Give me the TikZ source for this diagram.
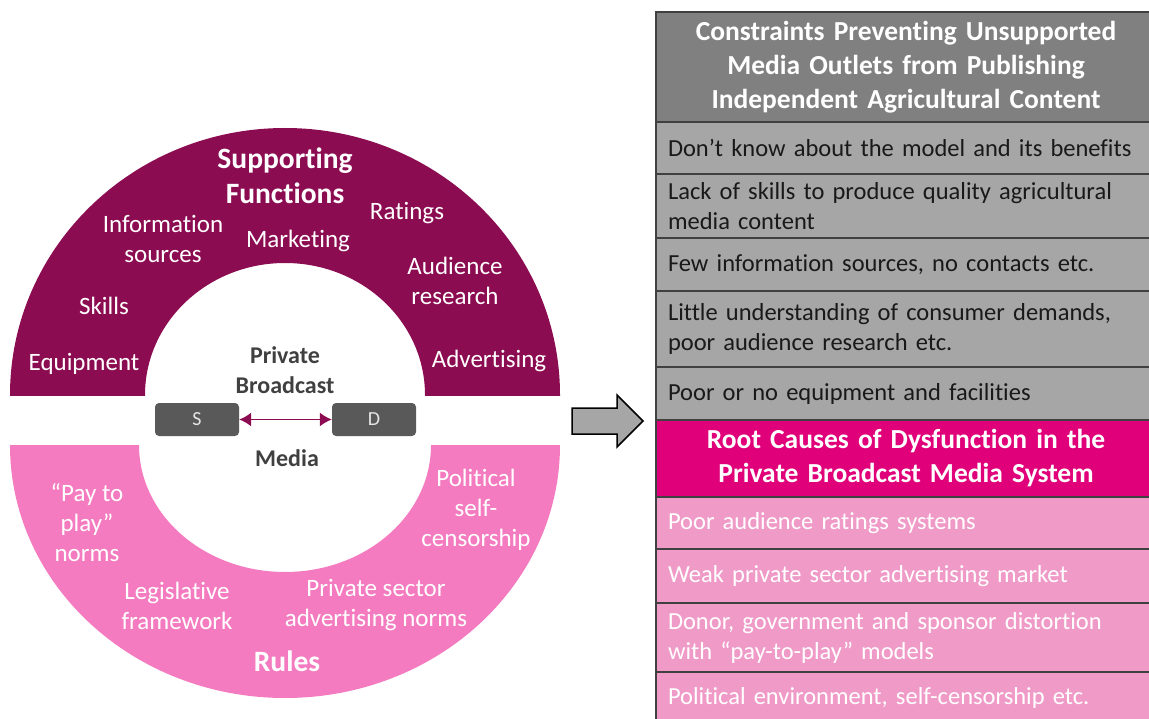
\documentclass[tikz,border=0pt]{standalone}
\usepackage{fontspec}
\setmainfont{Carlito}[Ligatures=NoCommon]
\usetikzlibrary{positioning, arrows.meta}

\definecolor{suppc}{HTML}{8C0C52}
\definecolor{rulec}{HTML}{F47BC0}
\definecolor{headgray}{HTML}{808080}
\definecolor{rowgray}{HTML}{A6A6A6}
\definecolor{headpink}{HTML}{E0007A}
\definecolor{rowpink}{HTML}{F09AC8}
\definecolor{rowline}{HTML}{404040}
\definecolor{boxgray}{HTML}{595959}
\definecolor{midtext}{HTML}{404040}

\tikzset{
	lbl/.style={text=white, align=center, font=\fontsize{25}{30}\selectfont},
	bigl/.style={text=white, align=center, font=\bfseries\fontsize{29.5}{35}\selectfont},
	midl/.style={text=midtext, align=center, font=\bfseries\fontsize{24}{30}\selectfont},
	sdbox/.style={fill=boxgray, rounded corners=4pt, minimum width=84pt, minimum height=33pt, text=white!90!black, font=\fontsize{20}{24}\selectfont},
	cell/.style={draw=rowline, line width=1.5pt, outer sep=0pt, inner xsep=12pt, inner ysep=2pt, minimum width=500pt, text width=476pt, align=left, font=\fontsize{24.5}{30}\selectfont},
	grayrow/.style={cell, fill=rowgray, text=black!90},
	pinkrow/.style={cell, fill=rowpink, text=white},
	headcell/.style={cell, align=center, text=white, font=\bfseries\fontsize{27.5}{34}\selectfont}
}

\begin{document}
\begin{tikzpicture}[x=1pt, y=-1pt]
	\useasboundingbox (0,0) rectangle (1149,719);

	% supporting functions (top half)
	\begin{scope}
		\clip (0,0) rectangle (600,395);
		\fill[suppc, even odd rule] (285,395) ellipse[x radius=275, y radius=267] (285,395) ellipse[x radius=140, y radius=132];
	\end{scope}
	% rules (bottom half)
	\begin{scope}
		\clip (0,445) rectangle (600,719);
		\fill[rulec, even odd rule] (285,445) ellipse[x radius=275, y radius=253] (285,445) ellipse[x radius=146, y radius=127];
	\end{scope}

	\node[bigl] (sf) at (285,176) {Supporting\\Functions};
	\node[lbl] (info) at (163,239) {Information\\sources};
	\node[lbl] (mkt) at (298,241) {Marketing};
	\node[lbl] (ratings) at (407,213) {Ratings};
	\node[lbl] (aud) at (455,281) {Audience\\research};
	\node[lbl] (skills) at (104,306) {Skills};
	\node[lbl] (equip) at (84,364) {Equipment};
	\node[lbl] (adv) at (489,361) {Advertising};

	\node[midl] (pb) at (285,370) {Private\\Broadcast};
	\node[sdbox] (s) at (197,419.5) {S};
	\node[sdbox] (d) at (374,419.5) {D};
	\draw[{Latex[length=12pt,width=14pt]}-{Latex[length=12pt,width=14pt]}, suppc, line width=1.5pt] (s) -- (d);
	\node[midl] (media) at (287,458) {Media};

	\node[lbl] (ptp) at (87,523) {``Pay to\\play''\\norms};
	\node[lbl] (polit) at (476,510) {Political\\self-\\censorship};
	\node[lbl] (legis) at (177,606) {Legislative\\framework};
	\node[lbl] (psan) at (376,605) {Private sector\\advertising norms};
	\node[bigl] (rules) at (287,661) {Rules};

	% block arrow
	\draw[fill=rowgray, line width=1.5pt, line join=miter] (572,408) -- (617,408) -- (617,395) -- (643,421) -- (617,447) -- (617,434) -- (572,434) -- cycle;

	% constraints table
	\node[headcell, minimum height=110pt, anchor=north west, fill=headgray] (con) at (656,12) {Constraints Preventing Unsupported\\Media Outlets from Publishing\\Independent Agricultural Content};
	\node[grayrow, minimum height=52pt, below=0pt of con] (con1) {Don’t know about the model and its benefits};
	\node[grayrow, minimum height=64pt, below=0pt of con1] (con2) {Lack of skills to produce quality agricultural\\media content};
	\node[grayrow, minimum height=53pt, below=0pt of con2] (con3) {Few information sources, no contacts etc.};
	\node[grayrow, minimum height=76pt, below=0pt of con3] (con4) {Little understanding of consumer demands,\\poor audience research etc.};
	\node[grayrow, minimum height=53pt, below=0pt of con4] (con5) {Poor or no equipment and facilities};
	\node[headcell, minimum height=77pt, fill=headpink, below=0pt of con5] (root) {Root Causes of Dysfunction in the\\Private Broadcast Media System};
	\node[pinkrow, minimum height=52pt, below=0pt of root] (root1) {Poor audience ratings systems};
	\node[pinkrow, minimum height=54pt, below=0pt of root1] (root2) {Weak private sector advertising market};
	\node[pinkrow, minimum height=69pt, below=0pt of root2] (root3) {Donor, government and sponsor distortion\\with “pay-to-play” models};
	\node[pinkrow, minimum height=52pt, below=0pt of root3] (root4) {Political environment, self-censorship etc.};
\end{tikzpicture}
\end{document}
